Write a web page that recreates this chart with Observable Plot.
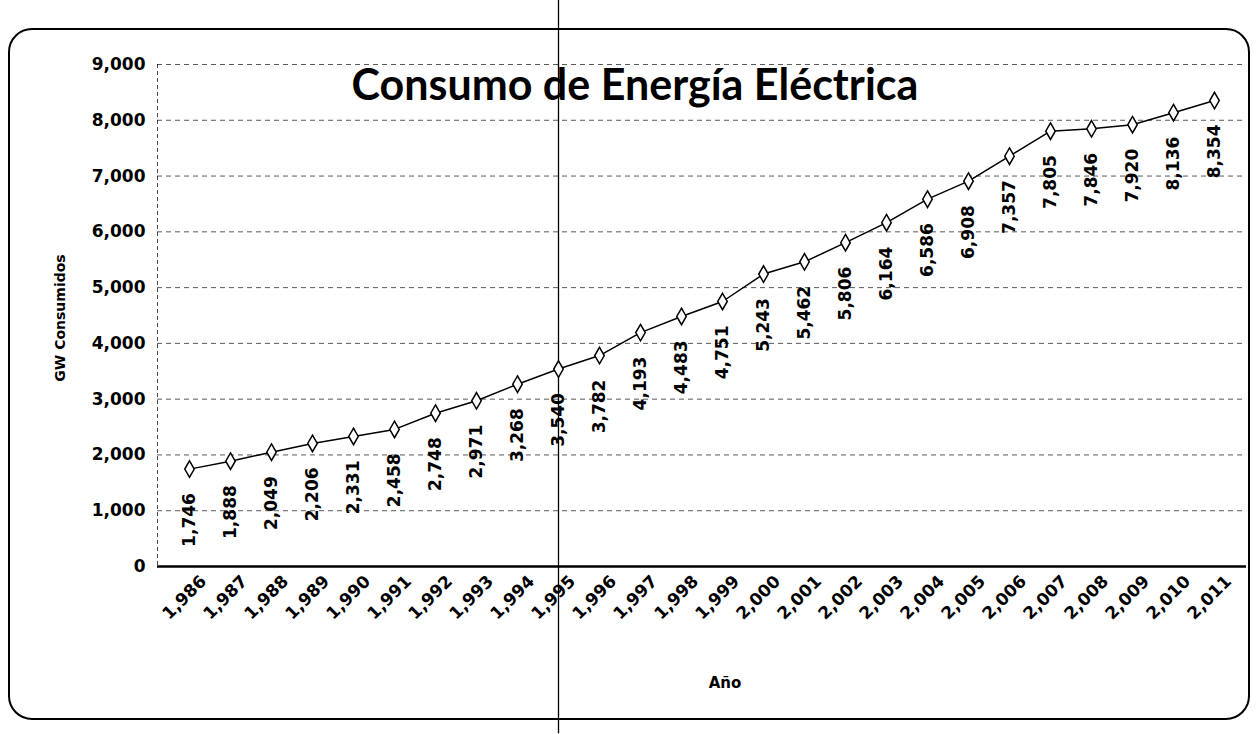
<!DOCTYPE html>
<html><head><meta charset="utf-8">
<script src="https://cdn.jsdelivr.net/npm/d3@7"></script>
<script src="https://cdn.jsdelivr.net/npm/@observablehq/plot@0.6"></script>
<style>
body{margin:0;background:#fff;width:1260px;height:734px;overflow:hidden;position:relative;font-family:"DejaVu Sans",sans-serif;}
#frame{position:absolute;left:8px;top:28px;width:1242px;height:692px;border:2px solid #000;border-radius:24px;box-sizing:border-box;}
#chart{position:absolute;left:0;top:0;}
#title{position:absolute;left:0;width:1270px;text-align:center;top:62px;font:bold 43px Lato,sans-serif;line-height:43px;color:#000;}
#ytitle{position:absolute;left:60px;top:318px;transform:translate(-50%,-50%) rotate(-90deg);font:bold 14px "DejaVu Sans",sans-serif;white-space:nowrap;}
#xtitle{position:absolute;left:725px;top:683px;transform:translate(-50%,-50%);font:bold 15px "DejaVu Sans",sans-serif;}
</style></head>
<body>
<div id="frame"></div>
<div id="chart"></div>
<div id="title">Consumo de Energía Eléctrica</div>
<div id="ytitle">GW Consumidos</div>
<div id="xtitle">Año</div>
<script>
const years = [1986,1987,1988,1989,1990,1991,1992,1993,1994,1995,1996,1997,1998,1999,2000,2001,2002,2003,2004,2005,2006,2007,2008,2009,2010,2011];
const consumo = [1746,1888,2049,2206,2331,2458,2748,2971,3268,3540,3782,4193,4483,4751,5243,5462,5806,6164,6586,6908,7357,7805,7846,7920,8136,8354];
const yTicks = [0,1000,2000,3000,4000,5000,6000,7000,8000,9000];
const foldYear = [1995];

const fmt = d3.format(",");
const data = years.map((y,i)=>({year:y, value:consumo[i]}));

const chart = Plot.plot({
  width:1260, height:734,
  marginLeft:157, marginRight:14, marginTop:64, marginBottom:168,
  x:{type:"point", domain:years, padding:0.5},
  y:{domain:[0,9000]},
  style:{fontFamily:"DejaVu Sans", color:"#000", background:"transparent"},
  marks:[
    Plot.ruleY(yTicks.filter(t=>t>0), {stroke:"#000", strokeDasharray:"5,4", strokeOpacity:0.65}),
    Plot.frame({anchor:"left", stroke:"#000", strokeDasharray:"3,4", strokeOpacity:0.7}),
    Plot.ruleY([0], {stroke:"#000", strokeWidth:2.5}),
    Plot.axisY({ticks:yTicks, tickFormat:fmt, tickSize:0, tickPadding:12, fontSize:17, fontWeight:"bold", label:null}),
    Plot.axisX({tickFormat:fmt, tickRotate:-45, tickSize:0, tickPadding:12, dx:14, fontSize:17, fontWeight:"bold", label:null}),
    Plot.ruleX(foldYear, {y1:-3000, y2:11000, stroke:"#000", strokeWidth:1.3, clip:false}),
    Plot.line(data, {x:"year", y:"value", stroke:"#000", strokeWidth:1.5}),
    Plot.dot(data, {x:"year", y:"value", symbol:"diamond", r:5, stroke:"#000", fill:"#fff", strokeWidth:1.5}),
    Plot.text(data, {x:"year", y:"value", text:d=>fmt(d.value), rotate:-90, textAnchor:"end", dy:24, fontSize:17, fontWeight:"bold", fill:"#000"})
  ]
});
document.getElementById("chart").appendChild(chart);
</script>
</body></html>
